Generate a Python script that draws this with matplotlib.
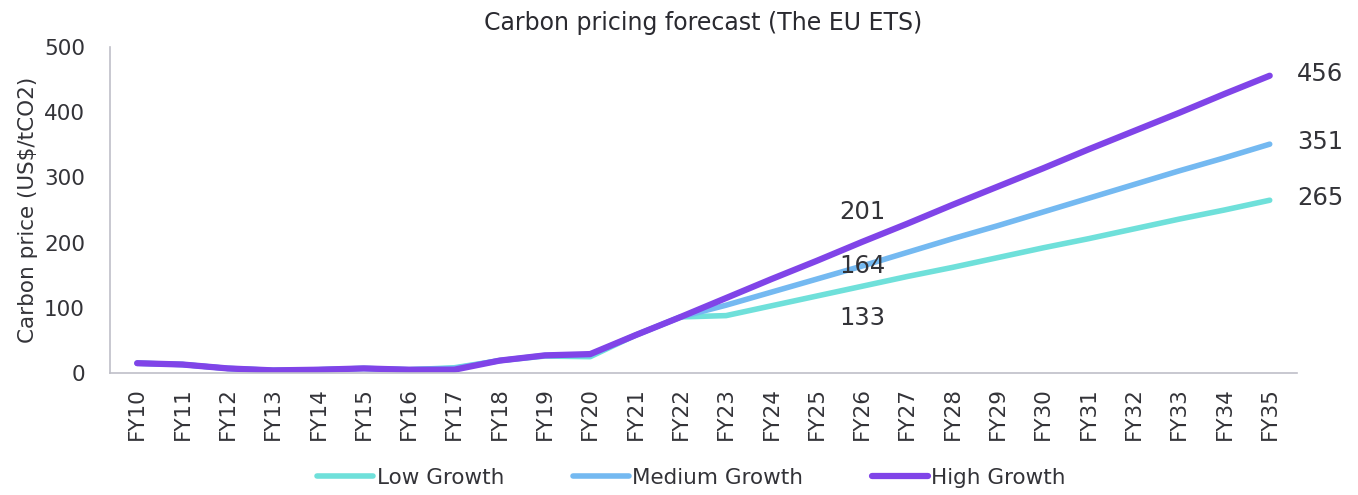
import matplotlib
matplotlib.use('Agg')
import matplotlib.pyplot as plt

plt.rcParams['font.family'] = ['DejaVu Sans']

years = ['FY10', 'FY11', 'FY12', 'FY13', 'FY14', 'FY15', 'FY16', 'FY17', 'FY18',
         'FY19', 'FY20', 'FY21', 'FY22', 'FY23', 'FY24', 'FY25', 'FY26', 'FY27',
         'FY28', 'FY29', 'FY30', 'FY31', 'FY32', 'FY33', 'FY34', 'FY35']

low = [15, 13, 7, 4, 5, 7, 5, 8, 19, 26, 25, 58, 86, 88, 103, 118, 133, 148,
       162, 177, 192, 206, 221, 236, 250, 265]
medium = [15, 13, 7, 4, 5, 7, 5, 7, 19, 27, 28, 58, 86, 104, 124, 144, 164, 185,
          206, 226, 247, 268, 289, 310, 330, 351]
high = [15, 13, 7, 4, 5, 7, 5, 5, 19, 27, 29, 58, 86, 115, 144, 172, 201, 229,
        258, 286, 314, 343, 371, 399, 428, 456]

c_low = '#6FE0DA'
c_med = '#74B9F1'
c_high = '#8044E8'
txt = '#333338'

fig = plt.figure(figsize=(13.58, 4.95), dpi=100)
ax = fig.add_axes([0.081, 0.2465, 0.874, 0.6585])

x = list(range(len(years)))
ax.plot(x, low, color=c_low, lw=4, solid_capstyle='round', label='Low Growth')
ax.plot(x, medium, color=c_med, lw=4, solid_capstyle='round', label='Medium Growth')
ax.plot(x, high, color=c_high, lw=4.5, solid_capstyle='round', label='High Growth')

# value labels at FY26 and FY35
i26 = years.index('FY26')
ax.text(i26, high[i26] + 28, str(high[i26]), ha='center', va='bottom', fontsize=17.5, color=txt)
ax.text(i26, medium[i26], str(medium[i26]), ha='center', va='center', fontsize=17.5, color=txt)
ax.text(i26, low[i26] - 30, str(low[i26]), ha='center', va='top', fontsize=17.5, color=txt)
for s in (high, medium, low):
    ax.text(len(years) - 1 + 0.6, s[-1] + 3, str(s[-1]), ha='left', va='center',
            fontsize=17.5, color=txt)

ax.set_xlim(-0.6, len(years) - 0.4)
ax.set_ylim(0, 500)
ax.set_yticks(range(0, 501, 100))
ax.set_xticks(x)
ax.set_xticklabels(years, rotation=90, fontsize=15.5, color=txt)
ax.tick_params(axis='y', length=0, labelsize=15.5, labelcolor=txt, pad=18)
ax.tick_params(axis='x', length=0, pad=10)
ax.set_ylabel('Carbon price (US$/tCO2)', fontsize=15.5, color=txt, labelpad=4)

for side in ('top', 'right'):
    ax.spines[side].set_visible(False)
for side in ('left', 'bottom'):
    ax.spines[side].set_color('#BFBFC8')
    ax.spines[side].set_linewidth(1.2)

ax.set_title('Carbon pricing forecast (The EU ETS)', fontsize=17, color='#2a2a30',
             pad=12)

leg = ax.legend(loc='upper center', bbox_to_anchor=(0.49, -0.232), ncol=3, frameon=False,
                fontsize=15.5, handlelength=2.6, handletextpad=0.15, columnspacing=3.2)
for t in leg.get_texts():
    t.set_color(txt)

fig.savefig('out.png', dpi=100)
